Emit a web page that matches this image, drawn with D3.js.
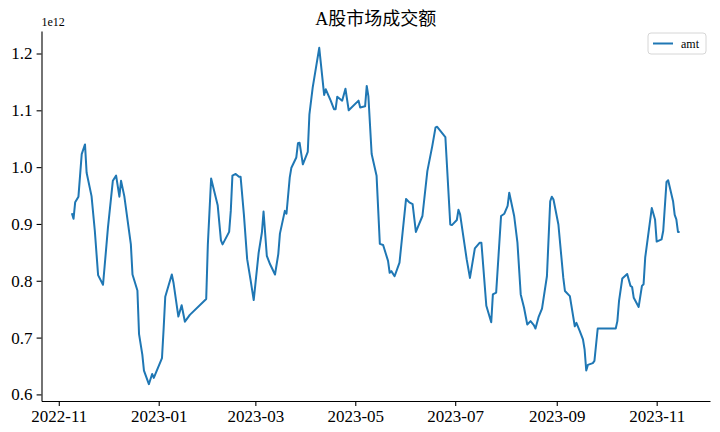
<!DOCTYPE html>
<html>
<head>
<meta charset="utf-8">
<script src="https://cdn.jsdelivr.net/npm/d3@7"></script>
<style>
  html, body { margin: 0; padding: 0; background: #fff; }
  svg { display: block; }
</style>
</head>
<body>
<svg id="chart" width="720" height="432"></svg>
<script>
// ---- data (values in units of 1e12) ----
const dates = ["2022-11-09","2022-11-10","2022-11-11","2022-11-13","2022-11-15","2022-11-17","2022-11-18","2022-11-21","2022-11-23","2022-11-25","2022-11-28","2022-11-29","2022-12-01","2022-12-04","2022-12-06","2022-12-08","2022-12-09","2022-12-11","2022-12-15","2022-12-16","2022-12-19","2022-12-20","2022-12-22","2022-12-23","2022-12-26","2022-12-28","2022-12-29","2023-01-03","2023-01-04","2023-01-05","2023-01-09","2023-01-10","2023-01-13","2023-01-15","2023-01-17","2023-01-20","2023-01-30","2023-01-31","2023-02-02","2023-02-06","2023-02-08","2023-02-09","2023-02-13","2023-02-14","2023-02-15","2023-02-17","2023-02-19","2023-02-20","2023-02-22","2023-02-24","2023-02-26","2023-02-28","2023-03-03","2023-03-05","2023-03-06","2023-03-08","2023-03-10","2023-03-13","2023-03-15","2023-03-16","2023-03-19","2023-03-20","2023-03-22","2023-03-23","2023-03-26","2023-03-27","2023-03-28","2023-03-30","2023-04-02","2023-04-03","2023-04-05","2023-04-09","2023-04-12","2023-04-13","2023-04-16","2023-04-18","2023-04-19","2023-04-20","2023-04-23","2023-04-25","2023-04-27","2023-05-03","2023-05-04","2023-05-07","2023-05-08","2023-05-09","2023-05-11","2023-05-14","2023-05-16","2023-05-18","2023-05-21","2023-05-22","2023-05-23","2023-05-25","2023-05-28","2023-06-01","2023-06-03","2023-06-05","2023-06-07","2023-06-11","2023-06-14","2023-06-17","2023-06-19","2023-06-20","2023-06-25","2023-06-28","2023-06-29","2023-07-02","2023-07-03","2023-07-04","2023-07-08","2023-07-10","2023-07-13","2023-07-16","2023-07-17","2023-07-20","2023-07-23","2023-07-24","2023-07-26","2023-07-29","2023-07-31","2023-08-02","2023-08-03","2023-08-06","2023-08-08","2023-08-10","2023-08-12","2023-08-14","2023-08-16","2023-08-18","2023-08-19","2023-08-21","2023-08-23","2023-08-26","2023-08-28","2023-08-29","2023-08-30","2023-09-02","2023-09-05","2023-09-06","2023-09-09","2023-09-12","2023-09-13","2023-09-15","2023-09-17","2023-09-18","2023-09-19","2023-09-20","2023-09-23","2023-09-24","2023-09-26","2023-10-07","2023-10-08","2023-10-09","2023-10-11","2023-10-14","2023-10-16","2023-10-17","2023-10-18","2023-10-21","2023-10-23","2023-10-24","2023-10-25","2023-10-29","2023-10-31","2023-11-01","2023-11-04","2023-11-05","2023-11-07","2023-11-08","2023-11-11","2023-11-12","2023-11-13","2023-11-14","2023-11-15"];
const amt = [0.919,0.909,0.938,0.948,1.023,1.040,0.990,0.949,0.888,0.810,0.793,0.826,0.893,0.976,0.985,0.948,0.976,0.949,0.864,0.811,0.783,0.706,0.670,0.642,0.618,0.636,0.629,0.664,0.715,0.772,0.811,0.797,0.737,0.757,0.728,0.740,0.768,0.864,0.980,0.933,0.871,0.864,0.886,0.923,0.985,0.988,0.983,0.983,0.917,0.838,0.803,0.766,0.849,0.885,0.922,0.844,0.829,0.811,0.847,0.883,0.923,0.918,0.982,0.999,1.017,1.042,1.043,1.005,1.027,1.093,1.140,1.210,1.127,1.137,1.117,1.102,1.102,1.124,1.117,1.138,1.100,1.117,1.105,1.107,1.143,1.125,1.023,0.985,0.865,0.863,0.835,0.814,0.817,0.808,0.832,0.944,0.938,0.935,0.886,0.914,0.993,1.037,1.070,1.071,1.053,0.899,0.898,0.907,0.925,0.917,0.838,0.805,0.857,0.867,0.867,0.756,0.727,0.776,0.779,0.914,0.918,0.932,0.955,0.914,0.867,0.776,0.753,0.723,0.729,0.722,0.716,0.737,0.751,0.808,0.940,0.948,0.943,0.899,0.805,0.782,0.773,0.720,0.726,0.712,0.697,0.679,0.642,0.652,0.655,0.659,0.716,0.716,0.729,0.764,0.804,0.812,0.791,0.789,0.770,0.754,0.791,0.794,0.841,0.928,0.908,0.869,0.873,0.888,0.974,0.977,0.940,0.916,0.908,0.886,0.886];
const xTickLabels = ["2022-11","2023-01","2023-03","2023-05","2023-07","2023-09","2023-11"];
const yTickLabels = ["0.6","0.7","0.8","0.9","1.0","1.1","1.2"];
const seriesName = "amt";
const titleText = "A股市场成交额";
const offsetText = "1e12";

// ---- layout ----
const W = 720, H = 432;
const L = 41.5, R = 710, T = 31, B = 401;
const tickFont = "'Liberation Serif', 'DejaVu Serif', serif";
const color = "#1f77b4";

const parse = d3.utcParse("%Y-%m-%d");
const parseM = d3.utcParse("%Y-%m");
const data = dates.map((d, i) => ({ date: parse(d), v: amt[i] }));

const xExt = d3.extent(data, d => +d.date);
const xPad = (xExt[1] - xExt[0]) * 0.05;
const yExt = d3.extent(data, d => d.v);
const yPad = (yExt[1] - yExt[0]) * 0.05;

const x = d3.scaleUtc().domain([new Date(xExt[0] - xPad), new Date(xExt[1] + xPad)]).range([L, R]);
const y = d3.scaleLinear().domain([yExt[0] - yPad, yExt[1] + yPad]).range([B, T]);

const svg = d3.select("#chart");
svg.append("rect").attr("width", W).attr("height", H).attr("fill", "#fff");

// line
const line = d3.line().x(d => x(d.date)).y(d => y(d.v));
svg.append("path").datum(data)
  .attr("d", line).attr("fill", "none").attr("stroke", color)
  .attr("stroke-width", 2).attr("stroke-linejoin", "round").attr("stroke-linecap", "butt");

// axes
const xAxis = d3.axisBottom(x)
  .tickValues(xTickLabels.map(parseM))
  .tickFormat(d3.utcFormat("%Y-%m"))
  .tickSizeOuter(0).tickSizeInner(4.9).tickPadding(4);
const gx = svg.append("g").attr("transform", `translate(0,${B})`).call(xAxis);

const yAxis = d3.axisLeft(y)
  .tickValues(yTickLabels.map(Number))
  .tickFormat(d3.format(".1f"))
  .tickSizeOuter(0).tickSizeInner(4.9).tickPadding(4);
const gy = svg.append("g").attr("transform", `translate(${L},0)`).call(yAxis);

[gx, gy].forEach(g => {
  g.select(".domain").attr("stroke", "#000").attr("stroke-width", 1.1);
  g.selectAll(".tick line").attr("stroke", "#000").attr("stroke-width", 1.1);
  g.selectAll(".tick text").attr("fill", "#000")
    .style("font-family", tickFont).style("font-size", "17px");
});

// offset text
svg.append("text").attr("x", L).attr("y", 26).text(offsetText)
  .style("font-family", tickFont).style("font-size", "12px").attr("fill", "#000");

// title
svg.append("text").attr("x", (L + R) / 2).attr("y", 25).attr("text-anchor", "middle")
  .text(titleText)
  .style("font-family", "'Liberation Serif', 'Noto Sans CJK SC', serif")
  .style("font-size", "18px").attr("fill", "#000");

// legend
const lg = svg.append("g");
lg.append("rect").attr("x", 648).attr("y", 33).attr("width", 58).attr("height", 21)
  .attr("rx", 3).attr("fill", "#fff").attr("fill-opacity", 0.8)
  .attr("stroke", "#d6d6d6").attr("stroke-width", 1);
lg.append("line").attr("x1", 653).attr("x2", 673).attr("y1", 43.5).attr("y2", 43.5)
  .attr("stroke", color).attr("stroke-width", 2);
lg.append("text").attr("x", 681).attr("y", 47.5).text(seriesName)
  .style("font-family", tickFont).style("font-size", "12px").attr("fill", "#000");
</script>
</body>
</html>
